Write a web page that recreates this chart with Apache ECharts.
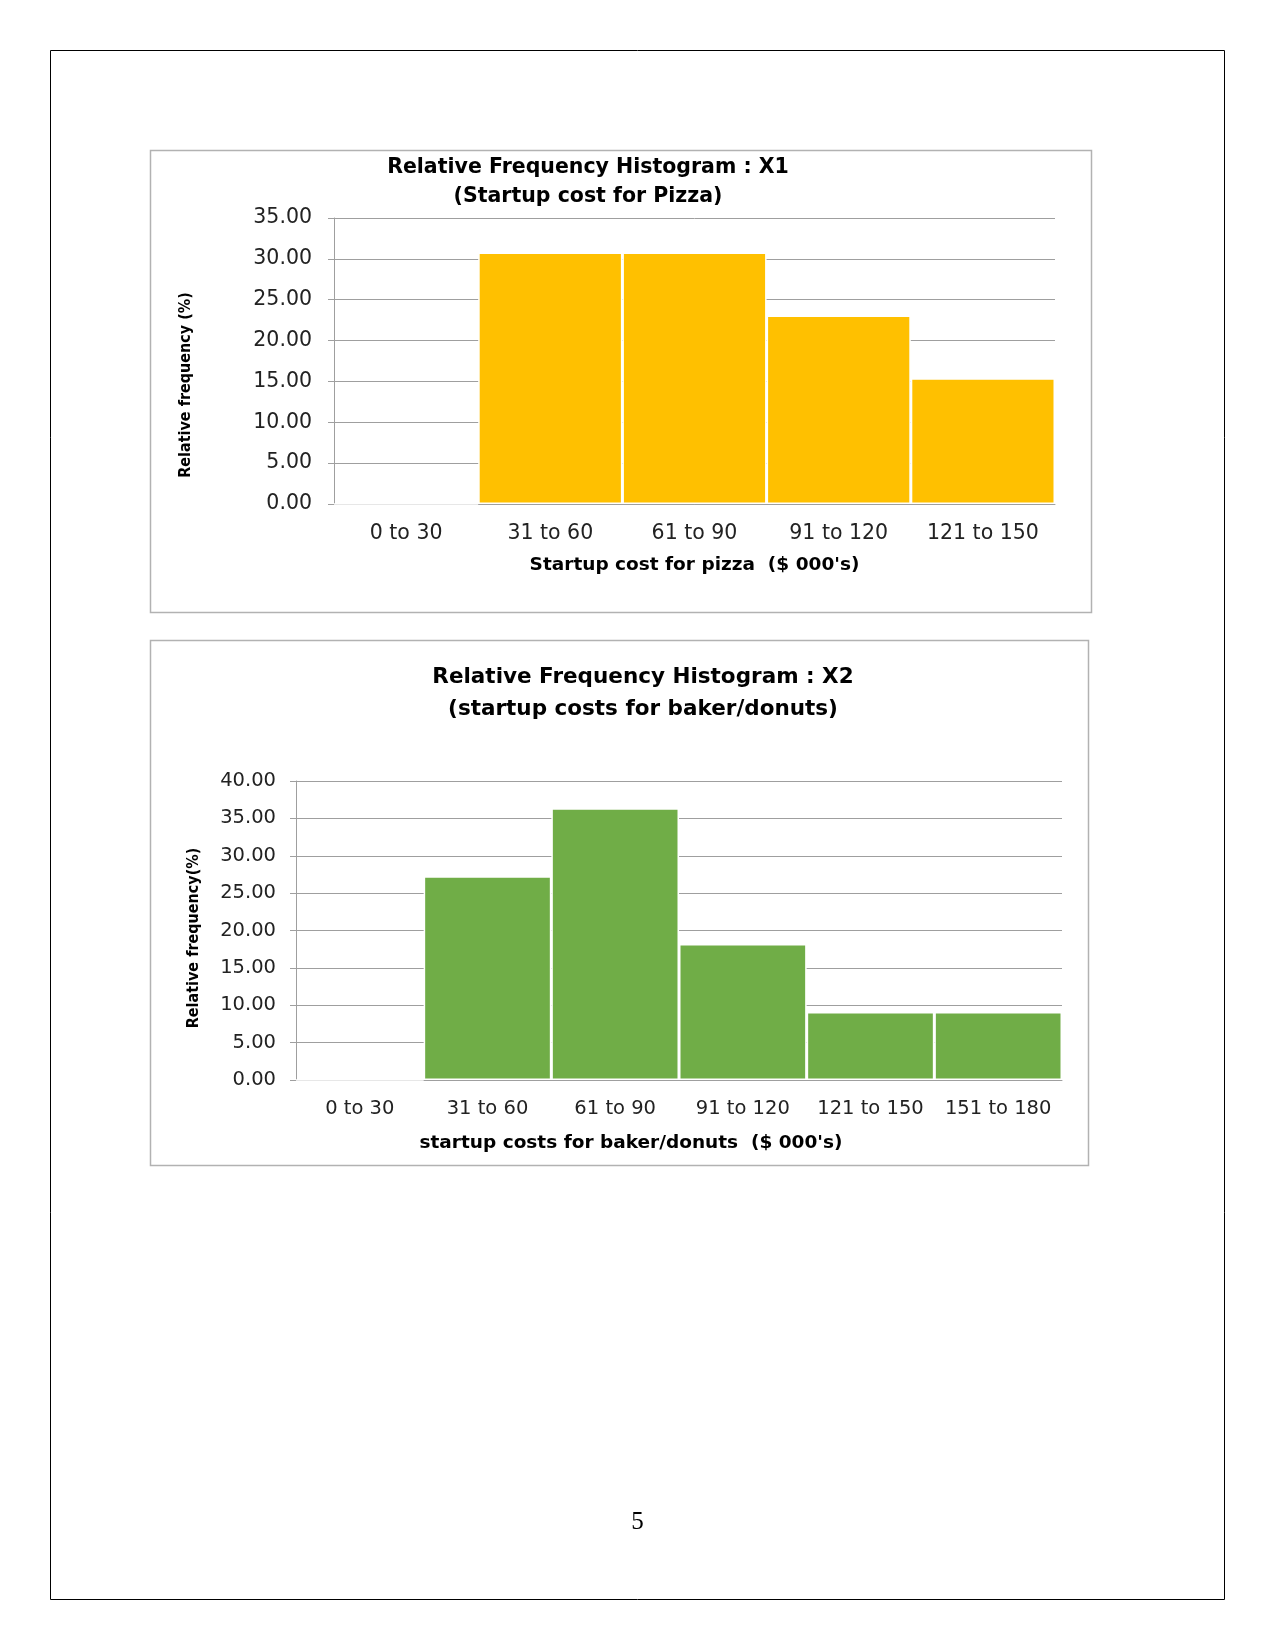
<!DOCTYPE html>
<html>
<head>
<meta charset="utf-8">
<script src="https://cdn.jsdelivr.net/npm/echarts@6/dist/echarts.min.js"></script>
<style>
html,body{margin:0;padding:0;background:#fff;}
#c{width:1275px;height:1650px;}
</style>
</head>
<body>
<div id="c"></div>
<script>
// ---- data ----
const pizzaCategories = ['0 to 30', '31 to 60', '61 to 90', '91 to 120', '121 to 150'];
const pizzaValues = [0, 30.77, 30.77, 23.08, 15.38];
const pizzaAxisMax = 35;
const pizzaAxisStep = 5;

const donutCategories = ['0 to 30', '31 to 60', '61 to 90', '91 to 120', '121 to 150', '151 to 180'];
const donutValues = [0, 27.27, 36.36, 18.18, 9.09, 9.09];
const donutAxisMax = 40;
const donutAxisStep = 5;

const pizzaTitle = 'Relative Frequency Histogram : X1\n(Startup cost for Pizza)';
const pizzaXName = "Startup cost for pizza  ($ 000's)";
const pizzaYName = 'Relative frequency (%)';
const donutTitle = 'Relative Frequency Histogram : X2\n(startup costs for baker/donuts)';
const donutXName = "startup costs for baker/donuts  ($ 000's)";
const donutYName = 'Relative frequency(%)';
const pageNumber = '5';

// ---- styles ----
const TF = "'DejaVu Sans', Verdana, sans-serif";
const NF = "'DejaVu Sans Condensed', 'DejaVu Sans', sans-serif";
const GRID_C = '#9f9f9f';
const TXT = '#222';

function yAx(gridIndex, max, step, fs, margin, name, pad, gap, lpad) {
  return {
    type: 'value', gridIndex: gridIndex, min: 0, max: max, interval: step,
    axisLine: {show: true, lineStyle: {color: GRID_C, width: 1}},
    axisTick: {show: true, length: 6, lineStyle: {color: GRID_C}},
    splitLine: {show: true, lineStyle: {color: GRID_C, width: 1}},
    axisLabel: {fontFamily: TF, fontSize: fs, color: TXT, margin: margin, padding: lpad,
      formatter: v => v.toFixed(2)},
    name: name, nameLocation: 'middle', nameRotate: 90, nameGap: gap,
    nameTextStyle: {fontFamily: NF, fontWeight: 'bold', fontSize: 16, color: '#000',
      padding: pad}
  };
}
function xAx(gridIndex, cats, fs, margin, name, gap, pad) {
  return {
    type: 'category', gridIndex: gridIndex, data: cats,
    axisLine: {show: true, lineStyle: {color: GRID_C, width: 1}},
    axisTick: {show: false},
    axisLabel: {fontFamily: TF, fontSize: fs, color: TXT, margin: margin, interval: 0},
    name: name, nameLocation: 'middle', nameGap: gap,
    nameTextStyle: {fontFamily: TF, fontWeight: 'bold', fontSize: 18.5, color: '#000',
      padding: pad}
  };
}

const chart = echarts.init(document.getElementById('c'));
chart.setOption({
  animation: false,
  backgroundColor: '#fff',
  title: [
    {text: pizzaTitle, left: 588, top: 153, textAlign: 'center', padding: 0,
     textStyle: {fontFamily: TF, fontWeight: 'bold', fontSize: 20.5, color: '#000', lineHeight: 29}},
    {text: donutTitle, left: 643, top: 661, textAlign: 'center', padding: 0,
     textStyle: {fontFamily: TF, fontWeight: 'bold', fontSize: 21.5, color: '#000', lineHeight: 32}}
  ],
  grid: [
    {left: 334, top: 218, width: 721, height: 286, containLabel: false},
    {left: 296, top: 781, width: 766, height: 299, containLabel: false}
  ],
  xAxis: [
    xAx(0, pizzaCategories, 20.5, 19, pizzaXName, 52, [0, 0, 0, 0]),
    xAx(1, donutCategories, 19.5, 19, donutXName, 54, [0, 96, 0, 0])
  ],
  yAxis: [
    yAx(0, pizzaAxisMax, pizzaAxisStep, 20.5, 22, pizzaYName, [0, 48, 0, 0], 140, [5, 0, 0, 0]),
    yAx(1, donutAxisMax, donutAxisStep, 19.5, 20, donutYName, [0, 15, 0, 0], 94, [3, 0, 0, 0])
  ],
  series: [
    {type: 'bar', xAxisIndex: 0, yAxisIndex: 0, data: pizzaValues, barCategoryGap: '0%',
     itemStyle: {color: '#FFC000', borderColor: '#ffffff', borderWidth: 1.5}},
    {type: 'bar', xAxisIndex: 1, yAxisIndex: 1, data: donutValues, barCategoryGap: '0%',
     itemStyle: {color: '#70AD47', borderColor: '#ffffff', borderWidth: 1.5}}
  ],
  graphic: [
    {type: 'rect', z: -10, shape: {x: 50.5, y: 50.5, width: 1174, height: 1549},
     style: {fill: 'none', stroke: '#000', lineWidth: 1}},
    {type: 'rect', z: -10, shape: {x: 150.5, y: 150.5, width: 941, height: 462},
     style: {fill: 'none', stroke: '#b2b2b2', lineWidth: 1.5}},
    {type: 'rect', z: -10, shape: {x: 150.5, y: 640.5, width: 938, height: 525},
     style: {fill: 'none', stroke: '#b2b2b2', lineWidth: 1.5}},
    {type: 'text', x: 637.5, y: 1522,
     style: {text: pageNumber, font: "25px 'Liberation Serif', 'Times New Roman', serif",
       fill: '#000', textAlign: 'center', textVerticalAlign: 'middle'}}
  ]
});
</script>
</body>
</html>
